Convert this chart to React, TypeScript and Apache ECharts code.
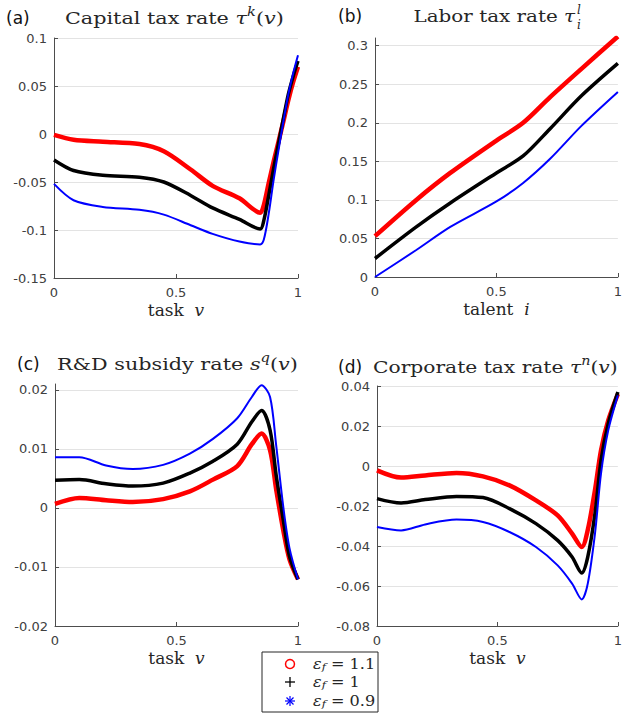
import React, { useEffect, useRef } from "react";
import * as echarts from "echarts";

// Panel (a) Capital tax rate
const xA = [0, 0.08, 0.2, 0.35, 0.45, 0.56, 0.65, 0.76, 0.845, 0.86, 0.88, 0.9, 0.92, 0.94, 0.96, 0.98, 1.0];
const aRed = [-0.001, -0.006, -0.008, -0.0105, -0.018, -0.037, -0.054, -0.067, -0.082, -0.074, -0.051, -0.029, -0.008, 0.013, 0.035, 0.054, 0.07];
const aBlack = [-0.027, -0.038, -0.043, -0.045, -0.05, -0.064, -0.077, -0.089, -0.099, -0.09, -0.064, -0.036, -0.01, 0.016, 0.041, 0.06, 0.076];
const aBlue = [-0.052, -0.069, -0.076, -0.079, -0.084, -0.095, -0.104, -0.112, -0.115, -0.11, -0.083, -0.048, -0.017, 0.013, 0.041, 0.063, 0.082];

// Panel (b) Labor tax rate
const xB = [0, 0.17, 0.31, 0.5, 0.61, 0.72, 0.85, 1];
const bRed = [0.053, 0.1, 0.135, 0.177, 0.2, 0.233, 0.27, 0.312];
const bBlack = [0.024, 0.065, 0.096, 0.135, 0.157, 0.192, 0.235, 0.277];
const bBlue = [0, 0.035, 0.065, 0.098, 0.122, 0.153, 0.196, 0.24];

// Panel (c) R&D subsidy rate
const xC = [0, 0.1, 0.21, 0.32, 0.445, 0.555, 0.65, 0.75, 0.81, 0.85, 0.885, 0.91, 0.94, 0.965, 1];
const cRed = [0.0007, 0.0017, 0.0013, 0.001, 0.0015, 0.0028, 0.0048, 0.0071, 0.0108, 0.0126, 0.0098, 0.0032, -0.0039, -0.0087, -0.0121];
const cBlack = [0.0047, 0.0048, 0.0041, 0.0037, 0.0042, 0.0059, 0.0079, 0.0108, 0.0146, 0.0165, 0.0132, 0.0056, -0.0022, -0.0082, -0.0121];
const cBlue = [0.0086, 0.0086, 0.0072, 0.0066, 0.0073, 0.0092, 0.0117, 0.0152, 0.0188, 0.0208, 0.0188, 0.0107, 0.0, -0.0068, -0.0121];

// Panel (d) Corporate tax rate
const xD = [0, 0.1, 0.2, 0.33, 0.44, 0.55, 0.66, 0.75, 0.81, 0.85, 0.875, 0.905, 0.93, 0.96, 1];
const dRed = [-0.0022, -0.0058, -0.0047, -0.0035, -0.0052, -0.0097, -0.0172, -0.0247, -0.0338, -0.0405, -0.032, -0.012, 0.0078, 0.0228, 0.036];
const dBlack = [-0.0163, -0.0185, -0.0168, -0.0152, -0.0158, -0.0213, -0.0288, -0.0372, -0.0455, -0.0535, -0.0455, -0.0238, 0.0028, 0.0212, 0.037];
const dBlue = [-0.0305, -0.0322, -0.0292, -0.0268, -0.028, -0.033, -0.0405, -0.0497, -0.0588, -0.0667, -0.0588, -0.0338, -0.0038, 0.0178, 0.0353];

const legendLabels = ["1.1", "1", "0.9"];
const COLORS = ["#ff0000", "#000000", "#0000ff"];
const WIDTHS = [4.5, 3.5, 2];

const SERIF = "DejaVu Serif";
const SANS = "DejaVu Sans";
const AX = "#4d4d4d";
const TXT = "#262626";

function pairs(xs: number[], ys: number[]) {
  return xs.map((x, i) => [x, ys[i]]);
}

export default function App() {
  const ref = useRef<HTMLDivElement>(null);
  useEffect(() => {
    if (!ref.current) return;
    const chart = echarts.init(ref.current, null, { renderer: "svg" });

    const grids = [
      { left: 54, top: 38, width: 244, height: 240 },
      { left: 375, top: 38, width: 244, height: 239 },
      { left: 55, top: 384, width: 243, height: 242 },
      { left: 377, top: 386, width: 243, height: 240 },
    ];
    const yRanges = [
      { min: -0.15, max: 0.1, interval: 0.05 },
      { min: 0, max: 0.31, interval: 0.05 },
      { min: -0.02, max: 0.021, interval: 0.01 },
      { min: -0.08, max: 0.04, interval: 0.02 },
    ];
    const xNames = ["task  {it|v}", "talent  {it|i}", "task  {it|v}", "task  {it|v}"];

    const xAxes = grids.map((_, i) => ({
      type: "value",
      gridIndex: i,
      min: 0,
      max: 1,
      interval: 0.5,
      name: xNames[i],
      nameLocation: "middle",
      nameGap: 23,
      nameTextStyle: {
        fontFamily: SERIF,
        fontSize: 17,
        color: TXT,
        rich: { it: { fontFamily: SERIF, fontSize: 17, fontStyle: "italic", color: TXT } },
      },
      axisLine: { show: true, onZero: false, lineStyle: { color: AX, width: 1 } },
      axisTick: { show: true, inside: true, length: 4, lineStyle: { color: AX } },
      axisLabel: { fontFamily: SANS, fontSize: 13, color: "#404040", margin: 8 },
      splitLine: { show: false },
    }));

    const yAxes = grids.map((_, i) => ({
      type: "value",
      gridIndex: i,
      ...yRanges[i],
      axisLine: { show: true, onZero: false, lineStyle: { color: AX, width: 1 } },
      axisTick: { show: true, inside: true, length: 4, lineStyle: { color: AX } },
      axisLabel: {
        fontFamily: SANS,
        fontSize: 13,
        color: "#404040",
        margin: 7,
        showMaxLabel: i === 1 || i === 2 ? false : true,
      },
      splitLine: {
        show: true,
        showMaxLine: i === 1 || i === 2 ? false : true,
        lineStyle: { color: "#e3e3e3", width: 1 },
      },
    }));

    const panels = [
      [xA, [aRed, aBlack, aBlue]],
      [xB, [bRed, bBlack, bBlue]],
      [xC, [cRed, cBlack, cBlue]],
      [xD, [dRed, dBlack, dBlue]],
    ] as [number[], number[][]][];

    const series: any[] = [];
    panels.forEach(([xs, ys], p) => {
      ys.forEach((vals, k) => {
        series.push({
          type: "line",
          name: "ef" + legendLabels[k],
          xAxisIndex: p,
          yAxisIndex: p,
          data: pairs(xs, vals),
          showSymbol: false,
          smooth: 0.3,
          lineStyle: { color: COLORS[k], width: WIDTHS[k] },
          itemStyle: { color: COLORS[k] },
          z: 2 + k,
        });
      });
    });

    const SX = 1.22;
    const tStyle = (extra: any) => ({
      fontFamily: SERIF,
      fontSize: 17,
      fill: TXT,
      verticalAlign: "middle",
      textVerticalAlign: "middle",
      ...extra,
    });
    const richT = {
      it: { fontFamily: SERIF, fontSize: 17, fontStyle: "italic", fill: TXT },
      sup: { fontFamily: SERIF, fontSize: 12, fontStyle: "italic", fill: TXT, padding: [0, 0, 12, 0] },
    };
    const lab = (t: string, x: number, y: number) => ({
      type: "text",
      x,
      y,
      style: { text: t, fontFamily: SANS, fontSize: 17, fill: "#111", verticalAlign: "middle", textVerticalAlign: "middle" },
    });

    const cx = 290;
    const legendY = [664, 682, 701];
    const graphic: any[] = [
      lab("(a)", 6, 18),
      lab("(b)", 338, 16),
      lab("(c)", 17, 364),
      lab("(d)", 338, 367),
      { type: "text", x: 65, y: 18, scaleX: SX, style: tStyle({ text: "Capital tax rate {it|τ}{sup|k}({it|v})", rich: richT }) },
      {
        type: "text",
        x: 575,
        y: 16,
        scaleX: 1.17,
        style: tStyle({ text: "Labor tax rate {it|τ}", rich: richT, align: "right", textAlign: "right" }),
      },
      { type: "text", x: 577, y: 10, style: tStyle({ text: "l", fontSize: 12, fontStyle: "italic" }) },
      { type: "text", x: 577, y: 25, style: tStyle({ text: "i", fontSize: 12, fontStyle: "italic" }) },
      { type: "text", x: 57, y: 364, scaleX: SX, style: tStyle({ text: "R&D subsidy rate {it|s}{sup|q}({it|v})", rich: richT }) },
      { type: "text", x: 373, y: 367, scaleX: 1.19, style: tStyle({ text: "Corporate tax rate {it|τ}{sup|n}({it|v})", rich: richT }) },
      // legend box
      {
        type: "rect",
        shape: { x: 262, y: 652, width: 116, height: 60 },
        style: { fill: "#fff", stroke: "#262626", lineWidth: 1 },
        z: 10,
      },
      {
        type: "circle",
        shape: { cx, cy: legendY[0], r: 4.5 },
        style: { fill: "none", stroke: COLORS[0], lineWidth: 1.5 },
        z: 11,
      },
      { type: "line", shape: { x1: cx - 5, y1: legendY[1], x2: cx + 5, y2: legendY[1] }, style: { stroke: COLORS[1], lineWidth: 1.3 }, z: 11 },
      { type: "line", shape: { x1: cx, y1: legendY[1] - 5, x2: cx, y2: legendY[1] + 5 }, style: { stroke: COLORS[1], lineWidth: 1.3 }, z: 11 },
      { type: "line", shape: { x1: cx - 5, y1: legendY[2], x2: cx + 5, y2: legendY[2] }, style: { stroke: COLORS[2], lineWidth: 1.2 }, z: 11 },
      { type: "line", shape: { x1: cx, y1: legendY[2] - 5, x2: cx, y2: legendY[2] + 5 }, style: { stroke: COLORS[2], lineWidth: 1.2 }, z: 11 },
      { type: "line", shape: { x1: cx - 3.5, y1: legendY[2] - 3.5, x2: cx + 3.5, y2: legendY[2] + 3.5 }, style: { stroke: COLORS[2], lineWidth: 1.2 }, z: 11 },
      { type: "line", shape: { x1: cx - 3.5, y1: legendY[2] + 3.5, x2: cx + 3.5, y2: legendY[2] - 3.5 }, style: { stroke: COLORS[2], lineWidth: 1.2 }, z: 11 },
      ...legendLabels.map((l, k) => ({
        type: "text",
        x: 313,
        y: legendY[k],
        z: 11,
        scaleX: 1.15,
        style: {
          text: "{e|ε}{s|f} = " + l,
          fontFamily: SERIF,
          fontSize: 14,
          fill: TXT,
          verticalAlign: "middle",
          textVerticalAlign: "middle",
          rich: {
            e: { fontFamily: SERIF, fontSize: 14, fontStyle: "italic", fill: TXT },
            s: { fontFamily: SERIF, fontSize: 10, fontStyle: "italic", fill: TXT, padding: [6, 0, 0, 0] },
          },
        },
      })),
    ];

    chart.setOption({
      animation: false,
      backgroundColor: "#ffffff",
      grid: grids,
      xAxis: xAxes,
      yAxis: yAxes,
      series,
      graphic,
    });
    return () => chart.dispose();
  }, []);
  return <div ref={ref} style={{ width: 625, height: 714, position: "absolute", left: 0, top: 0 }} />;
}
